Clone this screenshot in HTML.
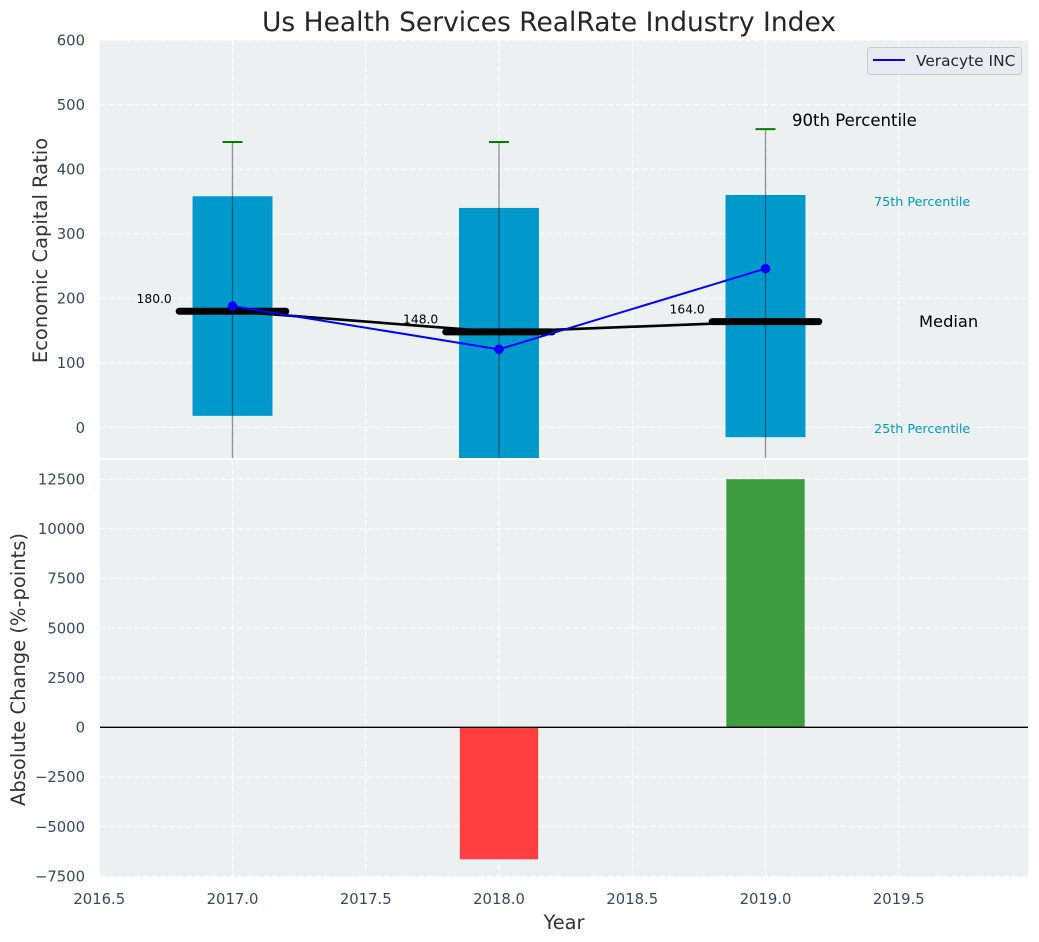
<!DOCTYPE html>
<html>
<head>
<meta charset="utf-8">
<style>
html,body{margin:0;padding:0;background:#fff;}
svg{display:block;font-family:"DejaVu Sans","Liberation Sans",sans-serif;}
</style>
</head>
<body>
<svg id="chart" xmlns="http://www.w3.org/2000/svg" width="1039" height="942" viewBox="0 0 1039 942">
<text x="549" y="31" text-anchor="middle" font-size="26.5" fill="#262626">Us Health Services RealRate Industry Index</text>
<text transform="translate(47,250.5) rotate(-90)" text-anchor="middle" font-size="19.5" fill="#333">Economic Capital Ratio</text>
<text transform="translate(25,669.5) rotate(-90)" text-anchor="middle" font-size="19.5" fill="#333">Absolute Change (%-points)</text>
<text x="564" y="929" text-anchor="middle" font-size="19.4" fill="#333">Year</text>
</svg>
<script>
var years = [2017, 2018, 2019];
var p90 = [442, 442, 462];
var p75 = [358, 340, 360];
var p25 = [18, -60, -15];
var p10 = [-120, -120, -120];
var medians = [180, 148, 164];
var medianLabels = ["180.0", "148.0", "164.0"];
var company = [188, 121, 246];
var changes = [0, -6650, 12500];
var topTicks = [0, 100, 200, 300, 400, 500, 600];
var bottomTicks = [-7500, -5000, -2500, 0, 2500, 5000, 7500, 10000, 12500];
var xTicks = [2016.5, 2017, 2017.5, 2018, 2018.5, 2019, 2019.5];

var NS = "http://www.w3.org/2000/svg";
var svg = document.getElementById("chart");
var L = 100, R = 1028, T1 = 40, B1 = 458, T2 = 460, B2 = 877;

function X(v) { return 232.5 + (v - 2017) * 266.5; }
function Y1(v) { return 427.5 - v * 0.6458; }
function Y2(v) { return 727.3 - v * 0.01985; }

function make(tag, props, parent) {
  var el = document.createElementNS(NS, tag);
  for (var k in props) el.setAttribute(k, props[k]);
  (parent || svg).appendChild(el);
  return el;
}
function fmt(v) { return v < 0 ? "\u2212" + Math.abs(v) : String(v); }

var defs = make("defs", {});
var cp1 = make("clipPath", { id: "clip-top" }, defs);
make("rect", { x: L, y: T1, width: R - L, height: B1 - T1 }, cp1);
var cp2 = make("clipPath", { id: "clip-bottom" }, defs);
make("rect", { x: L, y: T2, width: R - L, height: B2 - T2 }, cp2);

var bg1 = make("rect", { x: L, y: T1, width: R - L, height: B1 - T1, fill: "#ecf0f1" });


var bg2 = make("rect", { x: L, y: T2, width: R - L, height: B2 - T2, fill: "#ecf0f1" });



var gridStyle = { stroke: "#ffffff", "stroke-width": 1.1, "stroke-dasharray": "6,2.6", "stroke-opacity": 0.9 };
function gridLine(x1, y1, x2, y2) {
  var p = { x1: x1, y1: y1, x2: x2, y2: y2 };
  for (var k in gridStyle) p[k] = gridStyle[k];
  var g = make("line", p);
  
  
}
function label(x, y, s, size, fill, anchor) {
  return make("text", { x: x, y: y, "font-size": size, fill: fill, "text-anchor": anchor || "start" });
}

xTicks.forEach(function (t) {
  if (t > 2016.5) {
    gridLine(X(t), T1, X(t), B1);
    gridLine(X(t), T2, X(t), B2);
  }
  var tx = label(X(t), 904, "", 14.8, "#34495e", "middle");
  tx.textContent = t.toFixed(1);
  
  
});
topTicks.forEach(function (t) {
  gridLine(L, Y1(t), R, Y1(t));
  var tx = label(85, Y1(t) + 5.3, "", 14.8, "#34495e", "end");
  tx.textContent = fmt(t);
  
  
});
bottomTicks.forEach(function (t) {
  gridLine(L, Y2(t), R, Y2(t));
  var tx = label(85, Y2(t) + 5.3, "", 14.8, "#34495e", "end");
  tx.textContent = fmt(t);
  
  
});

var topPanel = make("g", { "clip-path": "url(#clip-top)" });


var bottomPanel = make("g", { "clip-path": "url(#clip-bottom)" });



years.forEach(function (yr, i) {
  var box = make("rect", {
    x: X(yr - 0.15), y: Y1(p75[i]), width: X(yr + 0.15) - X(yr - 0.15),
    height: Y1(p25[i]) - Y1(p75[i]), fill: "#0099cc"
  }, topPanel);
  
  
  var wh = make("line", {
    x1: X(yr), x2: X(yr), y1: Y1(p90[i]), y2: Y1(p10[i]),
    stroke: "#000", "stroke-opacity": 0.42, "stroke-width": 1.3
  }, topPanel);
  
  
  var cap = make("line", {
    x1: X(yr) - 10, x2: X(yr) + 10, y1: Y1(p90[i]), y2: Y1(p90[i]),
    stroke: "#008000", "stroke-width": 2
  }, topPanel);
  
  
});

var medPts = years.map(function (yr, i) { return X(yr) + "," + Y1(medians[i]); }).join(" ");
var medLine = make("polyline", { points: medPts, fill: "none", stroke: "#000", "stroke-width": 2.6 }, topPanel);



years.forEach(function (yr, i) {
  var seg = make("line", {
    x1: X(yr - 0.2), x2: X(yr + 0.2), y1: Y1(medians[i]), y2: Y1(medians[i]),
    stroke: "#000", "stroke-width": 7, "stroke-linecap": "round"
  }, topPanel);
  
  
  var tx = label(X(yr - 0.36), Y1(medians[i]) - 8.2, "", 12.3, "#000");
  tx.textContent = medianLabels[i];
  
  
});

var coPts = years.map(function (yr, i) { return X(yr) + "," + Y1(company[i]); }).join(" ");
var coLine = make("polyline", { points: coPts, fill: "none", stroke: "#0000ff", "stroke-width": 2 }, topPanel);


years.forEach(function (yr, i) {
  var pt = make("circle", { cx: X(yr), cy: Y1(company[i]), r: 4.8, fill: "#0000ff" }, topPanel);
  
  
});

years.forEach(function (yr, i) {
  var v = changes[i];
  if (v === 0) return;
  var y0 = Y2(Math.max(v, 0));
  var y1 = Y2(Math.min(v, 0));
  var bar = make("rect", {
    x: X(yr - 0.147), y: y0, width: X(yr + 0.147) - X(yr - 0.147), height: y1 - y0,
    fill: v > 0 ? "#3c9c3f" : "#ff3f3f"
  }, bottomPanel);
  
  
});
var zero = make("line", { x1: L, x2: R, y1: Y2(0), y2: Y2(0), stroke: "#000", "stroke-width": 1.3 }, bottomPanel);



var t90 = label(792, 126, "", 16.55, "#000");
t90.textContent = "90th Percentile";


var t75 = label(874, 206, "", 12.75, "#0099cc");
t75.textContent = "75th Percentile";


var tMed = label(919, 327, "", 16.3, "#000");
tMed.textContent = "Median";


var t25 = label(874, 433, "", 12.75, "#0099cc");
t25.textContent = "25th Percentile";



var lg = make("g", {});


make("rect", { x: 867.5, y: 47.5, width: 154, height: 27, rx: 3, fill: "#eaeaf2", stroke: "#cccccc", "stroke-width": 1 }, lg);
make("line", { x1: 873, x2: 905, y1: 60, y2: 60, stroke: "#0000ff", "stroke-width": 2 }, lg);
var lt = make("text", { x: 916, y: 66, "font-size": 15.4, fill: "#262626" }, lg);
lt.textContent = "Veracyte INC";
</script>
</body>
</html>
